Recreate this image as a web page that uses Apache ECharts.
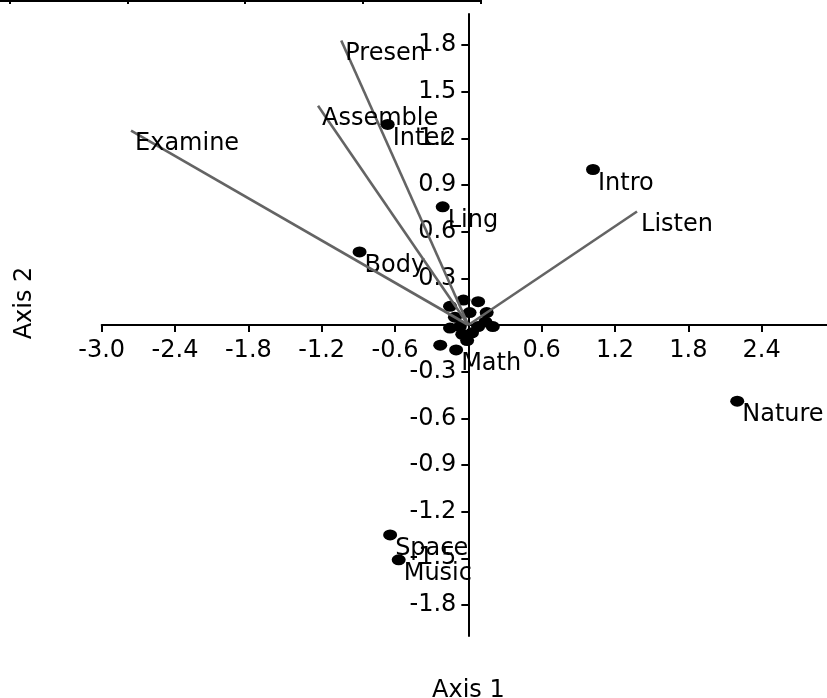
<!DOCTYPE html>
<html>
<head>
<meta charset="utf-8">
<script src="https://cdn.jsdelivr.net/npm/echarts@6/dist/echarts.min.js"></script>
<style>
html,body{margin:0;padding:0;background:#fff;}
#chart{width:827px;height:698px;}
</style>
</head>
<body>
<div id="chart"></div>
<script>
// Labelled points (category scores)
var pointNames = ['Intro', 'Nature', 'Inter.', 'Ling', 'Body', 'Space', 'Music', 'Math'];
var pointX = [1.02, 2.20, -0.66, -0.21, -0.89, -0.64, -0.57, -0.10];
var pointY = [1.00, -0.49, 1.29, 0.76, 0.47, -1.35, -1.51, -0.16];

// Unlabelled points clustered near the origin
var clusterX = [-0.23, -0.04, 0.08, -0.15, 0.15, 0.01, -0.11, -0.15, -0.07, 0.08, 0.20, 0.14, -0.01, 0.03, -0.05];
var clusterY = [-0.13, 0.16, 0.15, 0.12, 0.08, 0.08, 0.05, -0.02, -0.01, -0.01, -0.01, 0.02, -0.10, -0.05, -0.06];

// Biplot vectors (from origin)
var vectorNames = ['Presen', 'Assemble', 'Examine', 'Listen'];
var vectorX = [-1.04, -1.23, -2.76, 1.38];
var vectorY = [1.83, 1.41, 1.25, 0.73];

// Y tick labels
var yTickValues = [-1.8, -1.5, -1.2, -0.9, -0.6, -0.3, 0.3, 0.6, 0.9, 1.2, 1.5, 1.8];

var FONT = 'DejaVu Sans';
var FS = 24;

var W = 827, H = 698;
var gridLeft = 101.7, gridRight = -8, gridTop = 14, gridBottom = 62;
var xMin = -3, xMax = 3, yMin = -2, yMax = 2;
// offsets that bring each axis onto the other's zero
var plotW = W - gridLeft - gridRight, plotH = H - gridTop - gridBottom;
var xAxisOffset = -plotH * (0 - yMin) / (yMax - yMin);
var yAxisOffset = -plotW * (0 - xMin) / (xMax - xMin);

var chart = echarts.init(document.getElementById('chart'), null, {renderer: 'canvas'});

var series = [];

series.push({
  type: 'scatter',
  name: 'cluster',
  symbol: 'circle',
  symbolSize: [14, 11],
  itemStyle: {color: '#000', opacity: 1},
  z: 2,
  data: clusterX.map(function (x, i) { return [x, clusterY[i]]; })
});

series.push({
  type: 'scatter',
  name: 'points',
  symbol: 'circle',
  symbolSize: [14, 11],
  itemStyle: {color: '#000', opacity: 1},
  z: 2,
  label: {
    show: true,
    position: [12, 19.5],
    align: 'left',
    verticalAlign: 'middle',
    color: '#000',
    fontFamily: FONT,
    fontSize: FS,
    formatter: function (p) { return p.name; }
  },
  data: pointNames.map(function (n, i) { return {name: n, value: [pointX[i], pointY[i]]}; })
});

vectorNames.forEach(function (n, i) {
  series.push({
    type: 'line',
    name: n,
    showSymbol: false,
    symbol: 'none',
    z: 3,
    lineStyle: {color: '#646464', width: 2.6},
    endLabel: {
      show: true,
      formatter: n,
      color: '#000',
      fontFamily: FONT,
      fontSize: FS,
      distance: 4,
      offset: [0, 13]
    },
    data: [[0, 0], [vectorX[i], vectorY[i]]]
  });
});

chart.setOption({
  animation: false,
  backgroundColor: '#fff',
  grid: {left: gridLeft, right: gridRight, top: gridTop, bottom: gridBottom, containLabel: false, outerBoundsMode: 'none'},
  xAxis: {
    type: 'value',
    position: 'bottom',
    offset: xAxisOffset,
    min: xMin, max: xMax, interval: 0.6,
    name: 'Axis 1',
    nameLocation: 'middle',
    nameGap: 354,
    nameTextStyle: {color: '#000', fontFamily: FONT, fontSize: FS},
    axisLine: {onZero: false, lineStyle: {color: '#000', width: 2}},
    axisTick: {show: true, inside: false, length: 7, lineStyle: {color: '#000', width: 2}},
    axisLabel: {
      show: true, margin: 14, color: '#000', fontFamily: FONT, fontSize: FS,
      showMaxLabel: false, showMinLabel: true, hideOverlap: false,
      formatter: function (v) { return Math.abs(v) < 1e-9 ? '' : v.toFixed(1); }
    },
    splitLine: {show: false}
  },
  yAxis: {
    type: 'value',
    position: 'left',
    offset: yAxisOffset,
    min: yMin, max: yMax,
    name: 'Axis 2',
    nameLocation: 'middle',
    nameGap: 432,
    nameRotate: 90,
    nameTextStyle: {color: '#000', fontFamily: FONT, fontSize: FS, padding: [0, 0, 0, 44]},
    axisLine: {onZero: false, lineStyle: {color: '#000', width: 2}},
    axisTick: {show: true, inside: false, length: 7, customValues: yTickValues, lineStyle: {color: '#000', width: 2}},
    axisLabel: {
      show: true, margin: 12, color: '#000', fontFamily: FONT, fontSize: FS,
      customValues: yTickValues, hideOverlap: false,
      formatter: function (v) { return v.toFixed(1); }
    },
    splitLine: {show: false}
  },
  graphic: [
    {type: 'line', shape: {x1: 0, y1: 1, x2: 482, y2: 1}, style: {stroke: '#000', lineWidth: 2}},
    {type: 'line', shape: {x1: 10, y1: 0, x2: 10, y2: 4}, style: {stroke: '#000', lineWidth: 2}},
    {type: 'line', shape: {x1: 128, y1: 0, x2: 128, y2: 4}, style: {stroke: '#000', lineWidth: 2}},
    {type: 'line', shape: {x1: 245, y1: 0, x2: 245, y2: 4}, style: {stroke: '#000', lineWidth: 2}},
    {type: 'line', shape: {x1: 363, y1: 0, x2: 363, y2: 4}, style: {stroke: '#000', lineWidth: 2}},
    {type: 'line', shape: {x1: 481, y1: 0, x2: 481, y2: 4}, style: {stroke: '#000', lineWidth: 2}}
  ],
  series: series
});
</script>
</body>
</html>
